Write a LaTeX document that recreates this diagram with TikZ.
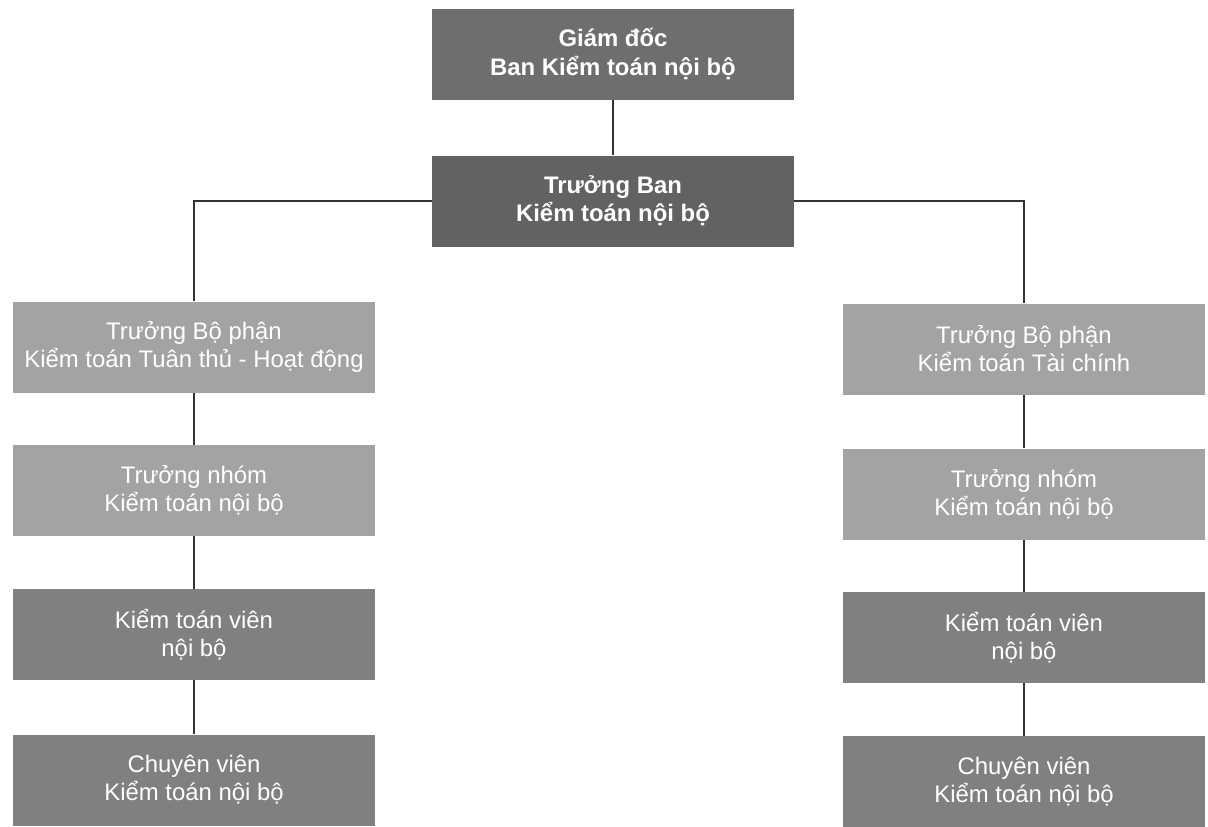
\documentclass[tikz,border=0pt]{standalone}
\usepackage{fontspec}
\setmainfont{Liberation Sans}
\usepackage{tikz}
\usetikzlibrary{positioning}

\definecolor{topgray}{HTML}{6E6E6E}
\definecolor{headgray}{HTML}{626262}
\definecolor{lightgray}{HTML}{A3A3A3}
\definecolor{midgray}{HTML}{808080}

\begin{document}
\begin{tikzpicture}[
  font=\fontsize{13.6}{16}\selectfont,
  orgbox/.style={rectangle, text=white, align=center, minimum width=7.24cm, minimum height=1.82cm, inner sep=2pt},
  leadbox/.style={orgbox, fill=topgray, font=\fontsize{13.6}{16}\selectfont\bfseries},
  unitbox/.style={orgbox, fill=lightgray},
  staffbox/.style={orgbox, fill=midgray},
  orgline/.style={draw=black!80, line width=1pt}
]
  \useasboundingbox (0,0) rectangle (24.16,-16.54);
  \node[leadbox] (giamdoc) at (12.26,-1.08) {Giám đốc\\Ban Kiểm toán nội bộ};
  \node[leadbox, fill=headgray] (truongban) at (12.26,-4.02) {Trưởng Ban\\Kiểm toán nội bộ};
  \node[unitbox] (tuanthu) at (3.88,-6.94) {Trưởng Bộ phận\\Kiểm toán Tuân thủ - Hoạt động};
  \node[unitbox] (nhomL) at (3.88,-9.81) {Trưởng nhóm\\Kiểm toán nội bộ};
  \node[staffbox] (ktvL) at (3.88,-12.69) {Kiểm toán viên\\nội bộ};
  \node[staffbox] (cvL) at (3.88,-15.60) {Chuyên viên\\Kiểm toán nội bộ};
  \node[unitbox] (taichinh) at (20.48,-6.98) {Trưởng Bộ phận\\Kiểm toán Tài chính};
  \node[unitbox] (nhomR) at (20.48,-9.88) {Trưởng nhóm\\Kiểm toán nội bộ};
  \node[staffbox] (ktvR) at (20.48,-12.75) {Kiểm toán viên\\nội bộ};
  \node[staffbox] (cvR) at (20.48,-15.63) {Chuyên viên\\Kiểm toán nội bộ};
  \draw[orgline] (giamdoc) -- (truongban);
  \draw[orgline] (truongban.west) -| (tuanthu.north);
  \draw[orgline] (truongban.east) -| (taichinh.north);
  \draw[orgline] (tuanthu) -- (nhomL);
  \draw[orgline] (nhomL) -- (ktvL);
  \draw[orgline] (ktvL) -- (cvL);
  \draw[orgline] (taichinh) -- (nhomR);
  \draw[orgline] (nhomR) -- (ktvR);
  \draw[orgline] (ktvR) -- (cvR);
\end{tikzpicture}
\end{document}
